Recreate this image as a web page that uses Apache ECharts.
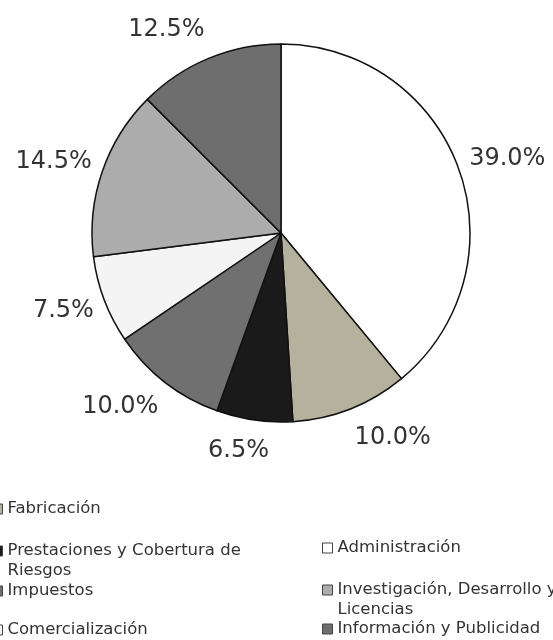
<!DOCTYPE html>
<html>
<head>
<meta charset="utf-8">
<script src="https://cdn.jsdelivr.net/npm/echarts@6/dist/echarts.min.js"></script>
<style>
html,body{margin:0;padding:0;background:#fff;}
#chart{width:553px;height:640px;}
</style>
</head>
<body>
<div id="chart"></div>
<script>
// Data
var categories = [
  'Administración',
  'Fabricación',
  'Prestaciones y Cobertura de Riesgos',
  'Impuestos',
  'Comercialización',
  'Investigación, Desarrollo y Licencias',
  'Información y Publicidad'
];
var values = [39.0, 10.0, 6.5, 10.0, 7.5, 14.5, 12.5];
var sliceColors = ['#ffffff', '#b4b19c', '#1a1a1a', '#707070', '#f4f4f4', '#acacac', '#6e6e6e'];
// two-line legend entries (leading blank line keeps the marker on the first line)
var legendText = {
  'Prestaciones y Cobertura de Riesgos': '\nPrestaciones y Cobertura de\nRiesgos',
  'Investigación, Desarrollo y Licencias': '\nInvestigación, Desarrollo y\nLicencias'
};

var CX = 281, CY = 233, R = 189;
var total = values.reduce(function (a, b) { return a + b; }, 0);
var cum = [];
(function () { var s = 0; for (var i = 0; i < values.length; i++) { cum.push(s); s += values[i]; } })();

var chart = echarts.init(document.getElementById('chart'));

// legend layout: [name, left, markerCenterY, lines]
var legendLayout = [
  [categories[1], -8, 509, 1],
  [categories[2], -8, 551, 2],
  [categories[3], -8, 591, 1],
  [categories[4], -8, 630, 1],
  [categories[0], 322, 548, 1],
  [categories[5], 322, 590, 2],
  [categories[6], 322, 629, 1]
];

var legends = legendLayout.map(function (l) {
  return {
    data: [l[0]],
    left: l[1],
    top: l[3] === 2 ? l[2] - 30 : l[2] - 10,
    padding: 0,
    icon: 'rect',
    itemWidth: 10,
    itemHeight: 10,
    selectedMode: false,
    itemStyle: { borderColor: '#444', borderWidth: 1 },
    formatter: function (name) { return legendText[name] || name; },
    textStyle: {
      fontFamily: 'DejaVu Sans',
      fontSize: 16.5,
      color: '#333',
      lineHeight: 20
    }
  };
});

var option = {
  backgroundColor: '#ffffff',
  animation: false,
  legend: legends,
  series: [{
    type: 'pie',
    center: [CX, CY],
    radius: R,
    startAngle: 90,
    clockwise: true,
    avoidLabelOverlap: false,
    data: categories.map(function (c, i) {
      return { name: c, value: values[i], itemStyle: { color: sliceColors[i] } };
    }),
    itemStyle: { borderColor: '#111', borderWidth: 1.5 },
    label: {
      show: true,
      position: 'outside',
      formatter: function (p) { return p.value.toFixed(1) + '%'; },
      fontFamily: 'DejaVu Sans',
      fontSize: 24,
      lineHeight: 24,
      color: '#333'
    },
    labelLine: { show: false },
    labelLayout: function (params) {
      var i = params.dataIndex;
      var a = (cum[i] + values[i] / 2) / total * 2 * Math.PI;
      var ux = Math.sin(a), uy = -Math.cos(a);
      var w = params.labelRect.width;
      var hx = (ux < 0 ? -1 : 1) * (w / 2) * Math.min(1, Math.abs(ux) / 0.3);
      return {
        x: CX + ux * (R + 11) + hx,
        y: CY + uy * (R + 31),
        align: 'center',
        verticalAlign: 'middle'
      };
    },
    emphasis: { disabled: true }
  }]
};
chart.setOption(option);
</script>
</body>
</html>
